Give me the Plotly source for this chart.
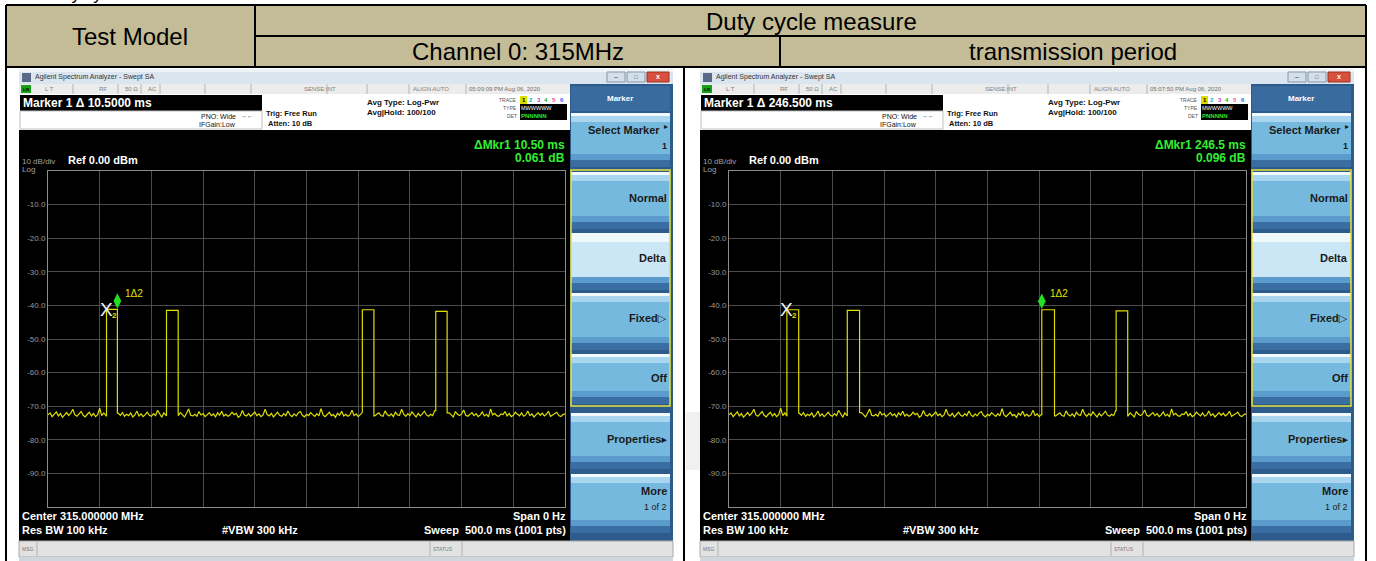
import plotly.graph_objects as go

W, H = 1376, 561
FONT = "Liberation Sans, Arial, DejaVu Sans, sans-serif"

# ---------------- data ----------------
table_title = "Duty cycle measure"
row_label = "Test Model"
col_labels = ["Channel 0: 315MHz", "transmission period"]

sweep_ms = 500.0
y_tick_vals = [-10, -20, -30, -40, -50, -60, -70, -80, -90]
y_tick_text = ["-10.0", "-20.0", "-30.0", "-40.0", "-50.0", "-60.0", "-70.0", "-80.0", "-90.0"]

noise_step_ms = 2.0
noise_dbm = [
    -72.6, -72.0, -73.1, -72.4, -71.7, -72.9, -72.2, -73.3, -72.5, -71.9,
    -72.8, -72.1, -70.9, -72.6, -73.0, -72.3, -71.6, -72.7, -73.2, -72.4,
    -71.8, -72.9, -72.2, -73.1, -72.5, -70.6, -72.8, -72.0, -73.0, -72.6,
    -72.3, -71.5, -72.9, -73.3, -72.1, -72.7, -71.9, -73.0, -72.4, -72.8,
    -72.0, -73.2, -72.6, -71.4, -72.9, -72.3, -73.1, -72.5, -71.8, -72.7,
    -73.0, -72.2, -72.8, -71.2, -72.5, -73.3, -72.0, -72.9, -72.4, -71.7,
    -72.6, -73.1, -72.3, -72.8, -71.9, -72.5, -73.2, -72.1, -70.8, -72.7,
    -72.9, -72.4, -73.0, -71.6, -72.6, -72.2, -73.1, -72.5, -71.9, -72.8,
    -72.3, -73.2, -72.0, -72.7, -71.5, -72.9, -72.4, -73.0, -72.6, -71.8,
    -72.5, -72.1, -73.3, -72.8, -71.3, -72.6, -72.9, -72.2, -73.0, -72.4,
    -71.7, -72.8, -72.3, -73.1, -72.6, -70.9, -72.5, -72.9, -72.1, -73.2,
    -72.4, -71.8, -72.7, -73.0, -72.2, -72.8, -71.4, -72.6, -73.1, -72.3,
    -72.9, -72.0, -71.6, -72.7, -73.2, -72.4, -72.8, -71.9, -72.5, -73.0,
    -72.2, -72.9, -70.7, -72.6, -73.1, -72.3, -71.8, -72.8, -72.5, -73.3,
    -72.1, -72.7, -71.5, -72.9, -72.4, -73.0, -72.6, -71.2, -72.8, -72.3,
    -73.1, -72.5, -71.9, -72.7, -72.2, -73.2, -72.6, -71.6, -72.9, -72.4,
    -72.0, -72.8, -73.0, -71.4, -72.5, -72.9, -72.3, -73.1, -71.8, -72.6,
    -72.7, -70.9, -72.4, -73.0, -72.2, -72.8, -71.7, -72.5, -73.2, -72.1,
    -72.9, -72.3, -71.5, -72.6, -73.0, -72.4, -72.8, -71.3, -72.7, -72.2,
    -73.1, -72.5, -71.8, -72.9, -72.0, -72.6, -73.2, -71.6, -72.4, -72.8,
    -72.3, -71.1, -72.7, -73.0, -72.5, -71.9, -72.8, -72.2, -73.1, -72.6,
    -71.7, -72.9, -72.4, -73.2, -70.8, -72.6, -72.1, -72.8, -73.0, -72.3,
    -72.5, -71.6, -72.9, -72.2, -73.1, -72.7, -71.8, -72.4, -72.9, -72.0,
    -73.0, -72.6, -71.4, -72.8, -72.3, -73.2, -72.5, -71.9, -72.7, -72.1,
    -72.9, -72.4, -71.5, -73.0, -72.6, -72.2, -71.8, -72.8, -73.1, -72.5,
    -72.3,
]

# left screen (pulse width measurement)
left_pulse_start = [56.6, 114.6, 304.0, 375.0]
left_pulse_end = [67.1, 125.9, 315.2, 386.0]
left_pulse_top = [-41.2, -41.5, -41.3, -41.8]
left_ref_marker = (56.6, -41.2)     # marker 2 (X)
left_delta_marker = (67.1, -41.2)   # marker 1 (diamond)
left_info = {
    "clock": "05:09:09 PM Aug 06, 2020",
    "marker": "Marker 1 \u0394 10.5000 ms",
    "dmkr": "\u0394Mkr1 10.50 ms",
    "ddb": "0.061 dB",
}

# right screen (transmission period)
right_pulse_start = [56.0, 114.4, 302.5, 374.4]
right_pulse_end = [67.4, 126.3, 314.8, 385.6]
right_pulse_top = [-41.3, -41.5, -41.3, -41.6]
right_ref_marker = (56.0, -41.3)
right_delta_marker = (302.5, -41.3)
right_info = {
    "clock": "05:07:50 PM Aug 06, 2020",
    "marker": "Marker 1 \u0394 246.500 ms",
    "dmkr": "\u0394Mkr1 246.5 ms",
    "ddb": "0.096 dB",
}

status_items = [("L T", 44), ("RF", 98), ("50 \u03a9", 124), ("AC", 147),
                ("SENSE:INT", 303), ("ALIGN AUTO", 412)]
softkeys = [
    (113, 167, "Select Marker", 130, "1", 146, False),
    (172, 229, "Normal", 198, None, 0, False),
    (233, 290, "Delta", 258, None, 0, True),
    (293, 350, "Fixed\u25b7", 318, None, 0, False),
    (354, 404, "Off", 378, None, 0, False),
    (413, 469, "Properties\u25b8", 439, None, 0, False),
    (474, 533, "More", 491, "1 of 2", 507, False),
]

# ---------------- helpers ----------------
shapes = []
annotations = []


def px(x):
    return x / W


def py(y):
    return 1 - y / H


def rect(x0, y0, x1, y1, fill, line=None, lw=0, layer="below"):
    shapes.append(dict(type="rect", xref="paper", yref="paper",
                       x0=px(x0), x1=px(x1), y0=py(y1), y1=py(y0),
                       fillcolor=fill, line=dict(color=line or fill, width=lw),
                       layer=layer))


def line(x0, y0, x1, y1, color="black", lw=1, layer="above"):
    shapes.append(dict(type="line", xref="paper", yref="paper",
                       x0=px(x0), x1=px(x1), y0=py(y0), y1=py(y1),
                       line=dict(color=color, width=lw), layer=layer))


def text(x, y, s, size, color="black", anchor="left", bold=False):
    annotations.append(dict(xref="paper", yref="paper", x=px(x), y=py(y),
                            text=("<b>%s</b>" % s) if bold else s,
                            showarrow=False, xanchor=anchor, yanchor="middle",
                            borderpad=0, font=dict(size=size, color=color, family=FONT)))


def build_trace(starts, ends, tops):
    pts = []
    n = len(noise_dbm)
    for i, v in enumerate(noise_dbm):
        t = i * noise_step_ms
        if any(s <= t <= e for s, e in zip(starts, ends)):
            continue
        pts.append((t, 0, v))
    for s, e, top in zip(starts, ends, tops):
        vs = noise_dbm[min(int(s // noise_step_ms), n - 1)]
        ve = noise_dbm[min(int(e // noise_step_ms) + 1, n - 1)]
        pts += [(s, 0, vs), (s, 1, top), (e, 2, top), (e, 3, ve)]
    pts.sort(key=lambda p: (p[0], p[1]))
    return [p[0] for p in pts], [p[2] for p in pts]


def screen(ox, info):
    def X(x):
        return x + ox
    # frame + title bar
    rect(X(19), 69, X(673), 561, "#b9c6d3")
    rect(X(19), 69, X(673), 84, "#dbe5ef")
    rect(X(19), 69, X(673), 72, "#eef3f8")
    rect(X(22), 73, X(31), 82, "#5a6a86")
    text(X(34), 77, "Agilent Spectrum Analyzer - Swept SA", 7, "#333333")
    rect(X(607), 72, X(625), 82, "#d3dfeb", line="#8797a8", lw=1)
    rect(X(627), 72, X(645), 82, "#d3dfeb", line="#8797a8", lw=1)
    rect(X(647), 72, X(669), 82, "#d9503f", line="#9a3020", lw=1)
    text(X(616), 77, "\u2013", 7, "#334455", anchor="center")
    text(X(636), 77, "\u25a1", 6, "#334455", anchor="center")
    text(X(658), 77, "x", 7, "white", anchor="center", bold=True)
    # status row
    rect(X(19), 84, X(570), 94, "#ececec")
    for sx in [73, 118, 141, 160, 205, 251, 327, 367, 409, 466]:
        line(X(sx), 84, X(sx), 94, "#b5b5b5", 1)
    rect(X(21), 85, X(31), 93, "#18a018")
    text(X(26), 89, "LXI", 4, "black", anchor="center", bold=True)
    for s, sx in status_items:
        text(X(sx), 89, s, 6, "#808080")
    text(X(468), 89, info["clock"], 6, "#707070")
    # info area
    rect(X(19), 94, X(570), 130, "white")
    rect(X(20), 95, X(262), 111, "black")
    text(X(22), 103.5, info["marker"], 12, "white", bold=True)
    rect(X(20), 111, X(262), 129, "white", line="#c0c0c0", lw=1)
    text(X(237), 116, "PNO: Wide", 7, "#111111", anchor="right")
    text(X(240), 116, "\u2192\u2190", 6, "#111111")
    text(X(237), 125, "IFGain:Low", 7, "#111111", anchor="right")
    text(X(265), 113, "Trig: Free Run", 7.5, "#111111", bold=True)
    text(X(267), 123, "Atten: 10 dB", 7.5, "#111111", bold=True)
    text(X(366), 102, "Avg Type: Log-Pwr", 8, "#111111", bold=True)
    text(X(366), 112, "Avg|Hold: 100/100", 8, "#111111", bold=True)
    text(X(518), 100, "TRACE", 5, "#555555", anchor="right")
    text(X(518), 108, "TYPE", 5, "#555555", anchor="right")
    text(X(518), 116, "DET", 5, "#555555", anchor="right")
    rect(X(520), 96, X(527), 104, "#d8e000")
    for k, col in enumerate(["#000000", "#00b8c8", "#d040d0", "#20b020", "#ff5080", "#4060ff"]):
        text(X(523.5 + k * 7.6), 100, str(k + 1), 6, col, anchor="center", bold=True)
    rect(X(520), 104, X(567), 120, "black")
    text(X(520), 108, "MWWWWW", 5.5, "white")
    text(X(520), 116, "PNNNNN", 6, "#30e030", bold=True)
    # black display
    rect(X(19), 130, X(570), 541, "black")
    text(X(566), 145, info["dmkr"], 12, "#33ee33", anchor="right", bold=True)
    text(X(566), 158.5, info["ddb"], 12, "#33ee33", anchor="right", bold=True)
    text(X(21), 161, "10 dB/div", 8, "#a0a0a0")
    text(X(21), 169, "Log", 8, "#a0a0a0")
    text(X(67), 160, "Ref 0.00 dBm", 11, "white", bold=True)
    text(X(21), 516, "Center 315.000000 MHz", 11, "white", bold=True)
    text(X(21), 530, "Res BW 100 kHz", 11, "white", bold=True)
    text(X(221), 530, "#VBW 300 kHz", 11, "white", bold=True)
    text(X(567), 516, "Span 0 Hz", 11, "white", anchor="right", bold=True)
    text(X(567), 530, "Sweep  500.0 ms (1001 pts)", 11, "white", anchor="right", bold=True)
    # softkeys
    rect(X(570), 84, X(673), 541, "#2d5c8c")
    rect(X(571), 86, X(670), 111, "#3a6b9f")
    text(X(620), 98, "Marker", 8, "white", anchor="center", bold=True)
    for (y0, y1, lab, ly, sub, sy, light) in softkeys:
        base = "#cbe7f6" if light else "#76b9de"
        hi = "#eef8fd" if light else "#a9d6ee"
        rect(X(571), y0, X(670), y1, base)
        rect(X(571), y0, X(670), y0 + 3, "#f2f9fd")
        rect(X(571), y0 + 3, X(670), y0 + 9, hi)
        rect(X(571), y1 - 13, X(670), y1 - 7, "#5b9ccc")
        rect(X(571), y1 - 7, X(670), y1, "#3a6ea3")
        if sub == "1":
            text(X(661), ly, lab, 11, "#1a1a1a", anchor="right", bold=True)
            text(X(669), ly - 3, "\u25b8", 8, "#1a1a1a", anchor="right")
        else:
            text(X(668), ly, lab, 11, "#1a1a1a", anchor="right", bold=True)
        if sub:
            text(X(668), sy, sub, 9, "#1a1a1a", anchor="right", bold=(sub == "1"))
    rect(X(571), 170, X(670), 406, "rgba(0,0,0,0)", line="#e8e23a", lw=1.5)
    # msg bar
    rect(X(19), 541, X(673), 557, "#e2e2e2", line="#a8a8a8", lw=1)
    line(X(37), 542, X(37), 556, "#b0b0b0", 1)
    line(X(430), 542, X(430), 556, "#b0b0b0", 1)
    line(X(462), 542, X(462), 556, "#b0b0b0", 1)
    text(X(21), 549, "MSG", 5, "#777777")
    text(X(432), 549, "STATUS", 5, "#777777")
    rect(X(19), 557, X(673), 561, "#cfd6de")


# ---------------- table ----------------
text(44, -5, "Duty cycle", 17, "black")
rect(6, 5, 1366, 67, "#c4bc97")
rect(686, 412, 700, 470, "#f0f0f0")
text(130, 37, row_label, 24, anchor="center")
text(811, 21, table_title, 24, anchor="center")
text(518, 52, col_labels[0], 24, anchor="center")
text(1073, 52, col_labels[1], 24, anchor="center")

screen(0, left_info)
screen(681, right_info)

for (x0, y0, x1, y1) in [(6, 5, 1366, 5), (6, 67, 1366, 67), (255, 36, 1366, 36),
                         (255, 5, 255, 67), (780, 36, 780, 67), (6, 5, 6, 561),
                         (1366, 5, 1366, 561), (684, 67, 684, 561)]:
    line(x0, y0, x1, y1, "black", 2)

# ---------------- traces ----------------
fig = go.Figure()
PX_PER_DB = 336.0 / 100.0
panels = [
    ("x", "y", left_pulse_start, left_pulse_end, left_pulse_top, left_ref_marker, left_delta_marker),
    ("x2", "y2", right_pulse_start, right_pulse_end, right_pulse_top, right_ref_marker, right_delta_marker),
]
for xa, ya, st, en, tp, ref, dm in panels:
    tx, ty = build_trace(st, en, tp)
    fig.add_trace(go.Scatter(x=tx, y=ty, mode="lines", xaxis=xa, yaxis=ya,
                             line=dict(color="#dede00", width=1.2), hoverinfo="skip"))
    fig.add_trace(go.Scatter(x=[dm[0]], y=[dm[1] + 8.5 / PX_PER_DB], mode="markers",
                             xaxis=xa, yaxis=ya, hoverinfo="skip",
                             marker=dict(symbol="diamond-tall", size=11, color="#22e022",
                                         line=dict(width=0))))
    annotations.append(dict(xref=xa, yref=ya, x=dm[0], y=dm[1], text="1\u03942",
                            showarrow=False, xanchor="left", yanchor="middle",
                            xshift=6, yshift=16,
                            font=dict(size=10, color="#e0e000", family=FONT)))
    annotations.append(dict(xref=xa, yref=ya, x=ref[0], y=ref[1], text="X",
                            showarrow=False, xanchor="center", yanchor="middle",
                            font=dict(size=19, color="#f0f0f0", family=FONT)))
    annotations.append(dict(xref=xa, yref=ya, x=ref[0], y=ref[1], text="<b>2</b>",
                            showarrow=False, xanchor="center", yanchor="middle",
                            xshift=8, yshift=-6,
                            font=dict(size=8, color="#e0e000", family=FONT)))

xcommon = dict(range=[0, sweep_ms], dtick=50, showgrid=True, gridcolor="#4c4c4c",
               gridwidth=1, zeroline=False, showticklabels=False, showline=True,
               linecolor="#8c8c8c", linewidth=1, mirror=True, ticks="", fixedrange=True)
ycommon = dict(range=[-100, 0], tickmode="array", tickvals=y_tick_vals, ticktext=y_tick_text,
               showgrid=True, gridcolor="#4c4c4c", gridwidth=1, zeroline=False,
               showline=True, linecolor="#8c8c8c", linewidth=1, mirror=True, ticks="",
               tickfont=dict(size=8, color="#9a9a9a", family=FONT), fixedrange=True)

fig.update_layout(
    width=W, height=H, margin=dict(l=0, r=0, t=0, b=0),
    paper_bgcolor="white", plot_bgcolor="black", showlegend=False,
    font=dict(family=FONT),
    shapes=shapes, annotations=annotations,
    xaxis=dict(domain=[px(48), px(565)], anchor="y", **xcommon),
    yaxis=dict(domain=[py(507), py(171)], anchor="x", **ycommon),
    xaxis2=dict(domain=[px(729), px(1246)], anchor="y2", **xcommon),
    yaxis2=dict(domain=[py(507), py(171)], anchor="x2", **ycommon),
)
fig.write_html("out.html", config={"displayModeBar": False},
               post_script="document.body.style.margin='0';document.body.style.padding='0';document.body.style.overflow='hidden';")
